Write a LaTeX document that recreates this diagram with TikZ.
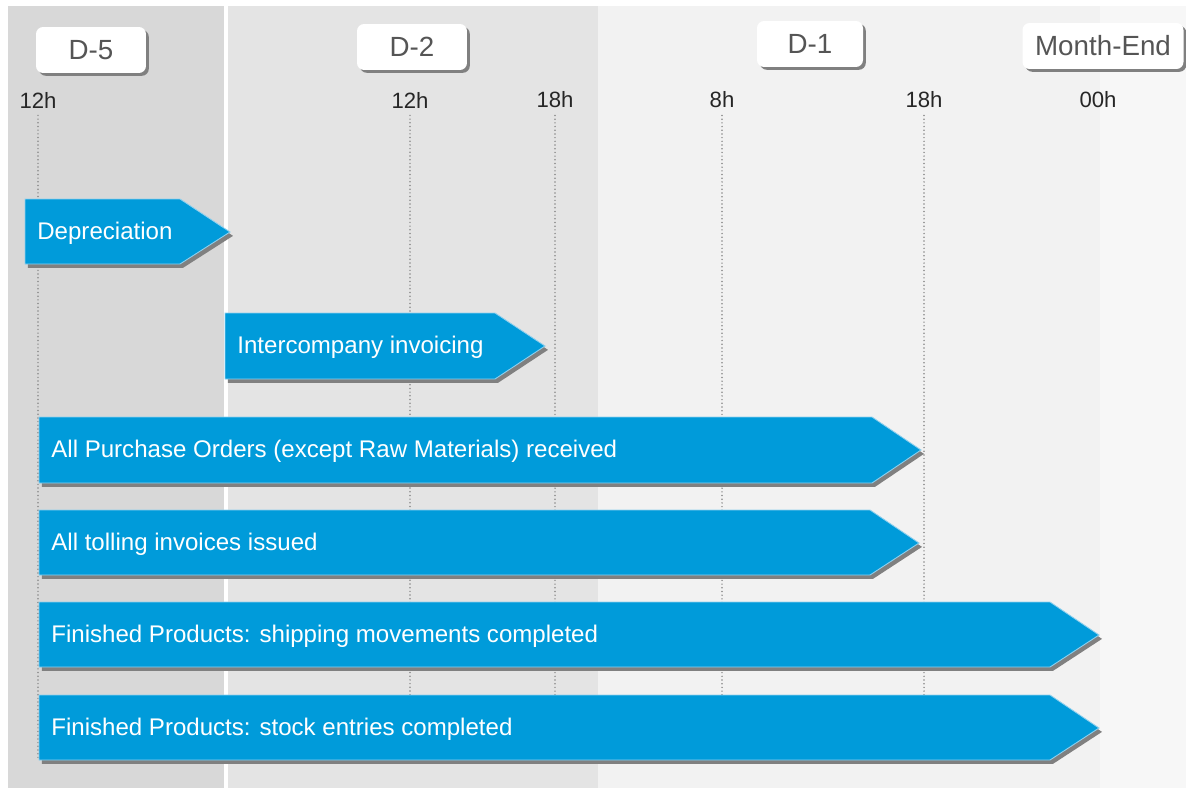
\documentclass[tikz,border=0pt]{standalone}
\usepackage{fontspec}
\setmainfont{Liberation Sans}
\usetikzlibrary{shadows}

\definecolor{bandA}{HTML}{D8D8D8}
\definecolor{bandB}{HTML}{E4E4E4}
\definecolor{bandC}{HTML}{F2F2F2}
\definecolor{bandD}{HTML}{F7F7F7}
\definecolor{barblue}{HTML}{009BDA}
\definecolor{barrim}{HTML}{8FD0EE}
\definecolor{shadowgray}{HTML}{808080}
\definecolor{dotgray}{HTML}{8A8A8A}
\definecolor{labelgray}{HTML}{555555}

\begin{document}
\begin{tikzpicture}[x=0.02cm,y=-0.02cm,
    daybox/.style={fill=white,rounded corners=4pt,minimum height=0.92cm,
        text=labelgray,font=\fontsize{15.8}{18}\selectfont,
        drop shadow={shadow xshift=1.6pt,shadow yshift=-1.6pt,opacity=1,fill=shadowgray}},
    hour/.style={text=black!85,font=\fontsize{12.6}{15}\selectfont,inner sep=1pt},
    hourline/.style={draw=dotgray,line width=0.95pt,line cap=round,dash pattern=on 0pt off 2.1pt,shorten <=3pt},
    task/.style={fill=barblue,draw=barrim,line width=0.5pt,
        drop shadow={shadow xshift=1.7pt,shadow yshift=-2.2pt,opacity=1,fill=shadowgray}},
    tasktext/.style={anchor=west,text=white,font=\fontsize{13.7}{16}\selectfont,inner sep=0pt,yshift=-1pt}]

        \useasboundingbox (0,0) rectangle (1186,788);
        \fill[white] (0,0) rectangle (1186,788);
        \fill[bandA] (8,6) rectangle (224,788);
        \fill[bandB] (228,6) rectangle (598,788);
        \fill[bandC] (598,6) rectangle (1100,788);
        \fill[bandD] (1100,6) rectangle (1186,788);

        % days
        \node[daybox,minimum width=2.2cm] (d5) at (91,50) {D-5};
        \node[daybox,minimum width=2.2cm] (d2) at (412,47) {D-2};
        \node[daybox,minimum width=2.12cm] (d1) at (810,44) {D-1};
        \node[daybox,minimum width=3.22cm] (mend) at (1103,46) {Month-End};

        % hours
        \node[hour] (h12a) at (38,100) {12h};
        \node[hour] (h12b) at (410,100) {12h};
        \node[hour] (h18a) at (555,100) {18h};
        \node[hour] (h8) at (722,100) {8h};
        \node[hour] (h18b) at (924,100) {18h};
        \node[hour] (h00) at (1098,100) {00h};

        \coordinate (floor) at (0,760);
        \draw[hourline] (h12a.south) -- (h12a.south |- floor);
        \draw[hourline] (h12b.south) -- (h12b.south |- floor);
        \draw[hourline] (h18a.south) -- (h18a.south |- floor);
        \draw[hourline] (h8.south) -- (h8.south |- floor);
        \draw[hourline] (h18b.south) -- (h18b.south |- floor);

        % tasks
        \fill[task] (25,199) -- (180,199) -- (230,232) -- (180,264) -- (25,264) -- cycle;
        \node[tasktext] (dep) at (37,232) {Depreciation};

        \fill[task] (225,313) -- (495,313) -- (545,346) -- (495,379) -- (225,379) -- cycle;
        \node[tasktext] (ico) at (237,346) {Intercompany invoicing};

        \fill[task] (39,417) -- (872,417) -- (921,450) -- (872,483) -- (39,483) -- cycle;
        \node[tasktext] (po) at (51,450) {All Purchase Orders (except Raw Materials) received};

        \fill[task] (39,510) -- (870,510) -- (919,543) -- (870,575) -- (39,575) -- cycle;
        \node[tasktext] (toll) at (51,543) {All tolling invoices issued};

        \fill[task] (39,602) -- (1050,602) -- (1099,635) -- (1050,667) -- (39,667) -- cycle;
        \node[tasktext] (ship) at (51,635) {Finished Products: shipping movements completed};

        \fill[task] (39,695) -- (1050,695) -- (1099,728) -- (1050,760) -- (39,760) -- cycle;
        \node[tasktext] (stock) at (51,728) {Finished Products: stock entries completed};
    \end{tikzpicture}
\end{document}
